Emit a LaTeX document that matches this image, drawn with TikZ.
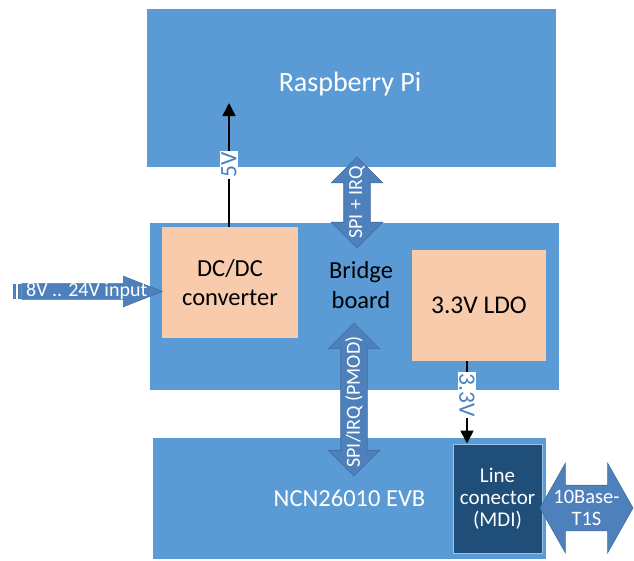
\documentclass[tikz,border=0pt]{standalone}
\usepackage{fontspec}
\setmainfont{Carlito}
\usetikzlibrary{shapes.arrows,arrows.meta}

\definecolor{boxblue}{HTML}{5B9BD5}
\definecolor{arrowblue}{HTML}{4E80BC}
\definecolor{peach}{HTML}{F8CBAD}
\definecolor{navy}{HTML}{1F4E79}

\begin{document}
\begin{tikzpicture}[x=1pt, y=-1pt,
    board/.style = {shape=rectangle, fill=boxblue, inner sep=0pt},
    part/.style = {shape=rectangle, fill=peach, inner sep=0pt, align=center, font=\fontsize{24.5}{29.5}\selectfont},
    bus/.style = {shape=double arrow, fill=arrowblue, draw=arrowblue!85!black, line width=0.6pt, inner xsep=0pt, inner ysep=13pt, double arrow head extend=12.5pt},
    buslabel/.style = {text=white, align=center, inner sep=0pt, font=\fontsize{20}{22}\selectfont},
    rail/.style = {line width=1.6pt, -{Triangle[length=13pt, width=13pt]}},
    railtag/.style = {fill=white, text=arrowblue, inner sep=1.5pt, font=\fontsize{23.5}{25}\selectfont}]
    \useasboundingbox (0,0) rectangle (634,560);

    % boards
    \node[board, minimum width=409pt, minimum height=158pt] (rpi) at (351.5,88) {};
    \node[text=white, font=\fontsize{28}{32}\selectfont] (rpitxt) at (350,84) {Raspberry Pi};
    \node[board, minimum width=409pt, minimum height=167pt] (bridge) at (354.5,306.5) {};
    \node[align=center, font=\fontsize{24.5}{29.5}\selectfont] (bridgetxt) at (361,285) {Bridge\\board};
    \node[board, minimum width=393pt, minimum height=121pt, text=white, font=\fontsize{24.5}{28}\selectfont] (evb) at (349.5,498.5) {NCN26010 EVB};

    % parts on the boards
    \node[part, minimum width=136pt, minimum height=111pt] (dcdc) at (230,282.5) {DC/DC\\converter};
    \node[part, minimum width=134pt, minimum height=111pt, font=\fontsize{25.5}{29.5}\selectfont] (ldo) at (479,305.5) {3.3V LDO};
    \node[shape=rectangle, fill=navy, draw=boxblue!60!white, line width=1pt, minimum width=89pt, minimum height=109pt, text=white, align=center, font=\fontsize{21}{22}\selectfont] (mdi) at (497.5,498.5) {Line\\conector\\(MDI)};

    % buses
    \node[bus, rotate=90, minimum height=91pt] (spi) at (357,202.5) {};
    \node[buslabel, rotate=90] (spitxt) at (spi.center) {SPI + IRQ};
    \node[bus, rotate=90, minimum height=153pt] (pmod) at (354,399.5) {};
    \node[buslabel, rotate=90] (pmodtxt) at (354,402) {SPI/IRQ (PMOD)};
    \node[bus, minimum height=93pt, inner ysep=22.5pt, double arrow head extend=22pt, double arrow tip angle=121] (tbase) at (586.5,508) {};
    \node[buslabel, font=\fontsize{20.5}{22}\selectfont] (tbasetxt) at (tbase.center) {10Base-\\T1S};

    % supply input
    \fill[arrowblue] (13,284) rectangle (15.5,299);
    \fill[arrowblue] (17.5,284) rectangle (20.5,299);
    \node[shape=single arrow, fill=arrowblue, draw=arrowblue!85!black, line width=0.6pt, inner xsep=0pt, inner ysep=7.5pt, minimum height=140.5pt, single arrow head extend=7.5pt, single arrow tip angle=43, anchor=tip] (vin) at (163,291.5) {};
    \node[buslabel, anchor=west] (vintxt) at (26,291.5) {8V .. 24V input};

    % supply rails
    \coordinate (rpiin) at (229,103);
    \coordinate (ldoout) at (467,361);
    \draw[rail] (dcdc.north -| rpiin) -- (rpiin) node[railtag, rotate=90, pos=0.5] (fivev) {5V};
    \draw[rail] (ldoout) -- (ldoout |- mdi.north) node[railtag, rotate=-90, pos=0.41] (threev) {3.3V};
\end{tikzpicture}
\end{document}
